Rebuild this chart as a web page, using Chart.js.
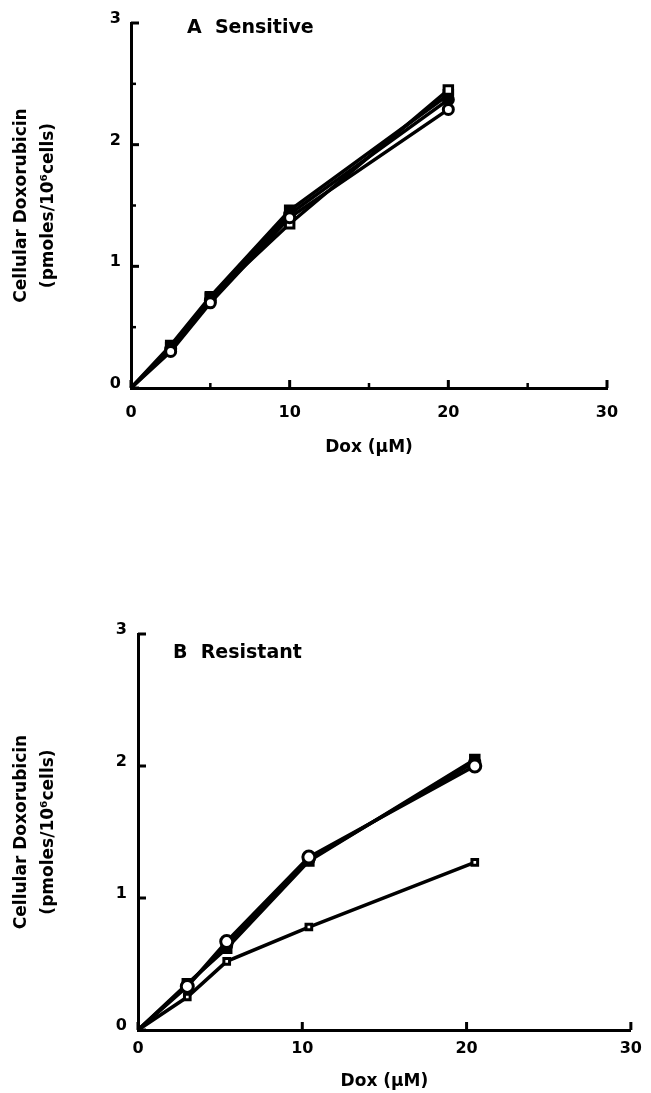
<!DOCTYPE html>
<html>
<head>
<meta charset="utf-8">
<script src="https://cdn.jsdelivr.net/npm/chart.js@4.4.0/dist/chart.umd.min.js"></script>
<style>
  body { margin: 0; background: #fff; }
  #top { position: absolute; left: 0; top: 0; }
  #bottom { position: absolute; left: 0; top: 470px; }
</style>
</head>
<body>
<canvas id="top" width="651" height="470"></canvas>
<canvas id="bottom" width="651" height="623"></canvas>
<script>
// panel A - sensitive cells
const doseA = [0, 2.5, 5, 10, 20];
const openCircleA = [0, 0.30, 0.70, 1.40, 2.29];
const filledCircleA = [0, 0.32, 0.72, 1.43, 2.37];
const openSquareA = [0, 0.33, 0.74, 1.35, 2.45];
const filledSquareA = [0, 0.35, 0.75, 1.46, 2.41];

// panel B - resistant cells
const doseB = [0, 3, 5.4, 10.4, 20.5];
const openCircleB = [0, 0.33, 0.67, 1.31, 2.00];
const filledCircleB = [0, 0.34, 0.64, 1.29, 2.03];
const filledSquareB = [0, 0.35, 0.62, 1.28, 2.05];
const smallSquareB = [0, 0.25, 0.52, 0.78, 1.27];

const xTicks = [0, 10, 20, 30];
const yTicks = [0, 1, 2, 3];

const FONT = "'DejaVu Sans', sans-serif";

function pts(xs, ys) {
  return xs.map((x, i) => ({ x: x, y: ys[i] }));
}

function series(xs, ys, style, filled, radius, bw) {
  return {
    data: pts(xs, ys),
    borderColor: "#000",
    borderWidth: 3.5,
    pointStyle: style,
    pointRadius: ys.map((v, i) => (i == 0 ? 0 : radius)),
    pointBackgroundColor: filled ? "#000" : "#fff",
    pointBorderColor: "#000",
    pointBorderWidth: bw,
    tension: 0,
    clip: false,
  };
}

// inward tick marks, plus panel letter
const decor = {
  id: "decor",
  afterDraw(chart, args, opts) {
    const ctx = chart.ctx;
    const xs = chart.scales.x, ys = chart.scales.y;
    const area = chart.chartArea;
    ctx.save();
    ctx.strokeStyle = "#000";
    ctx.lineWidth = 3;
    xTicks.forEach(v => {
      const px = xs.getPixelForValue(v);
      ctx.beginPath(); ctx.moveTo(px, area.bottom); ctx.lineTo(px, area.bottom - 8); ctx.stroke();
    });
    yTicks.forEach(v => {
      const py = ys.getPixelForValue(v);
      ctx.beginPath(); ctx.moveTo(area.left, py); ctx.lineTo(area.left + 8, py); ctx.stroke();
    });
    if (opts.minor) {
      ctx.lineWidth = 2.5;
      [5, 15, 25].forEach(v => {
        const px = xs.getPixelForValue(v);
        ctx.beginPath(); ctx.moveTo(px, area.bottom); ctx.lineTo(px, area.bottom - 5); ctx.stroke();
      });
      [0.5, 1.5, 2.5].forEach(v => {
        const py = ys.getPixelForValue(v);
        ctx.beginPath(); ctx.moveTo(area.left, py); ctx.lineTo(area.left + 5, py); ctx.stroke();
      });
    }
    ctx.fillStyle = "#000";
    ctx.font = "bold 19px " + FONT;
    ctx.textBaseline = "middle";
    ctx.fillText(opts.label, area.left + opts.labelDx, area.top + opts.labelDy);
    ctx.restore();
  }
};

function makeChart(id, datasets, cfg) {
  return new Chart(document.getElementById(id), {
    type: "line",
    data: { datasets: datasets },
    plugins: [decor],
    options: {
      responsive: false,
      animation: false,
      layout: { padding: cfg.padding },
      plugins: {
        legend: { display: false },
        tooltip: { enabled: false },
        decor: cfg.decor,
      },
      scales: {
        x: {
          type: "linear",
          min: 0, max: 30,
          afterFit: s => { s.height = cfg.xHeight; },
          grid: { display: false, drawTicks: false },
          border: { display: true, color: "#000", width: 3 },
          ticks: {
            stepSize: 10, color: "#000", padding: cfg.xPad,
            font: { family: FONT, size: 16, weight: "bold" },
          },
          title: {
            display: true, text: "Dox (\u00b5M)", color: "#000",
            font: { family: FONT, size: 17, weight: "bold", lineHeight: 1.2 },
            padding: { top: 0, bottom: cfg.titlePad },
          },
        },
        y: {
          type: "linear",
          min: 0, max: 3,
          afterFit: s => { s.width = cfg.yWidth; },
          grid: { display: false, drawTicks: false },
          border: { display: true, color: "#000", width: 3 },
          ticks: {
            stepSize: 1, color: "#000", padding: cfg.yPad, labelOffset: -4,
            font: { family: FONT, size: 16, weight: "bold" },
          },
          title: {
            display: true,
            text: ["Cellular Doxorubicin", "(pmoles/10\u2076cells)"],
            color: "#000",
            font: { family: FONT, size: 17, weight: "bold", lineHeight: 1.6 },
            padding: { top: 8, bottom: 0 },
          },
        },
      },
    },
  });
}

makeChart("top", [
  series(doseA, openCircleA, "circle", false, 5, 3),
  series(doseA, filledCircleA, "circle", true, 5, 3),
  series(doseA, openSquareA, "rect", false, 6, 3),
  series(doseA, filledSquareA, "rect", true, 6, 3),
], {
  padding: { top: 23, right: 44, left: 0, bottom: 0 },
  xHeight: 82, yWidth: 131, xPad: 15, yPad: 10, titlePad: 12,
  decor: { minor: true, label: "A  Sensitive", labelDx: 56, labelDy: 5 },
});

makeChart("bottom", [
  series(doseB, openCircleB, "circle", false, 6, 3),
  series(doseB, filledCircleB, "circle", true, 5, 3),
  series(doseB, filledSquareB, "rect", true, 6, 3),
  series(doseB, smallSquareB, "rect", false, 4, 3),
], {
  padding: { top: 164, right: 10, left: 0, bottom: 0 },
  xHeight: 63, yWidth: 138, xPad: 9, yPad: 11, titlePad: 1,
  decor: { minor: false, label: "B  Resistant", labelDx: 35, labelDy: 19 },
});
</script>
</body>
</html>
